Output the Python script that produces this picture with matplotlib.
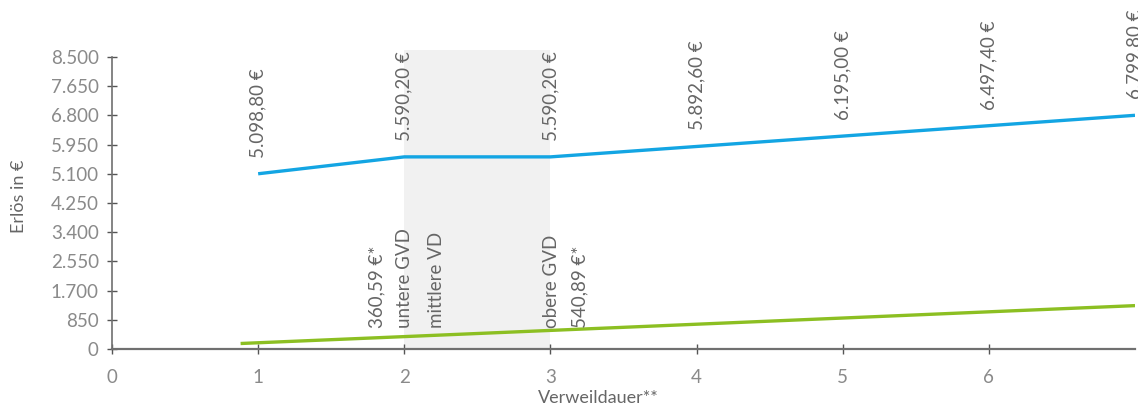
import matplotlib
matplotlib.use('Agg')
import matplotlib.pyplot as plt

plt.rcParams['font.family'] = ['Lato', 'DejaVu Sans']

# Erlös je Verweildauer (Tage)
DAYS_DRG = [1, 2, 3, 4, 5, 6, 7]
ERLOES_DRG = [5098.80, 5590.20, 5590.20, 5892.60, 6195.00, 6497.40, 6799.80]
LABELS_DRG = ['5.098,80 €', '5.590,20 €', '5.590,20 €', '5.892,60 €',
              '6.195,00 €', '6.497,40 €', '6.799,80 €']

DAYS_ABSCHLAG = [0.88, 2, 3, 4, 5, 6, 7]
ERLOES_ABSCHLAG = [160, 360.59, 540.89, 721, 901, 1082, 1262]

NOTE_X = [1.81, 2.0, 2.22, 3.01, 3.20]
NOTE_TEXT = ['360,59 €*', 'untere GVD', 'mittlere VD', 'obere GVD', '540,89 €*']

Y_TICKS = [0, 850, 1700, 2550, 3400, 4250, 5100, 5950, 6800, 7650, 8500]
Y_TICKLABELS = ['0', '850', '1.700', '2.550', '3.400', '4.250', '5.100',
                '5.950', '6.800', '7.650', '8.500']
X_TICKS = [0, 1, 2, 3, 4, 5, 6]

BLUE = '#13a5e3'
GREEN = '#8cbf22'
TEXT = '#666666'
TICK = '#8a8a8a'
AXIS = '#707070'

fig = plt.figure(figsize=(11.38, 4.08), dpi=100)
ax = fig.add_axes([112 / 1138, 59 / 408, 1023 / 1138, 299 / 408])

ax.set_xlim(0, 7)
ax.set_ylim(0, 8700)

# Bereich zwischen unterer und oberer Grenzverweildauer
ax.axvspan(2, 3, color='#f1f1f1', zorder=0, lw=0)

ax.plot(DAYS_DRG, ERLOES_DRG, color=BLUE, lw=2.4, solid_capstyle='butt', zorder=3)
ax.plot(DAYS_ABSCHLAG, ERLOES_ABSCHLAG, color=GREEN, lw=2.4, solid_capstyle='butt', zorder=3)

for x, y, lab in zip(DAYS_DRG, ERLOES_DRG, LABELS_DRG):
    ax.annotate(lab, (x, y), xytext=(0, 16), textcoords='offset pixels',
                rotation=90, ha='center', va='bottom', fontsize=13.5,
                color=TEXT, annotation_clip=False)

for x, lab in zip(NOTE_X, NOTE_TEXT):
    ax.text(x, 620, lab, rotation=90, ha='center', va='bottom', fontsize=13.5,
            color=TEXT, zorder=4)

for side in ['top', 'right']:
    ax.spines[side].set_visible(False)
ax.spines['left'].set_bounds(0, 8500)
ax.spines['left'].set_color(AXIS)
ax.spines['left'].set_linewidth(1.2)
ax.spines['bottom'].set_color(AXIS)
ax.spines['bottom'].set_linewidth(1.6)

ax.set_yticks(Y_TICKS)
ax.set_yticklabels(Y_TICKLABELS)
ax.set_xticks(X_TICKS)
ax.tick_params(axis='both', direction='inout', length=7, width=1, color='#555555',
               labelcolor=TICK, labelsize=13.5)
ax.tick_params(axis='y', pad=6)
ax.tick_params(axis='x', pad=11)

ax.set_xlabel('Verweildauer**', fontsize=13, color=TEXT)
ax.xaxis.set_label_coords(3.33 / 7, -0.164)
ax.xaxis.label.set_va('center')
ax.set_ylabel('Erlös in €', fontsize=13, color=TEXT)
ax.yaxis.set_label_coords(-0.091, 0.512)
ax.yaxis.label.set_va('center')

fig.savefig('out.png', dpi=100)
